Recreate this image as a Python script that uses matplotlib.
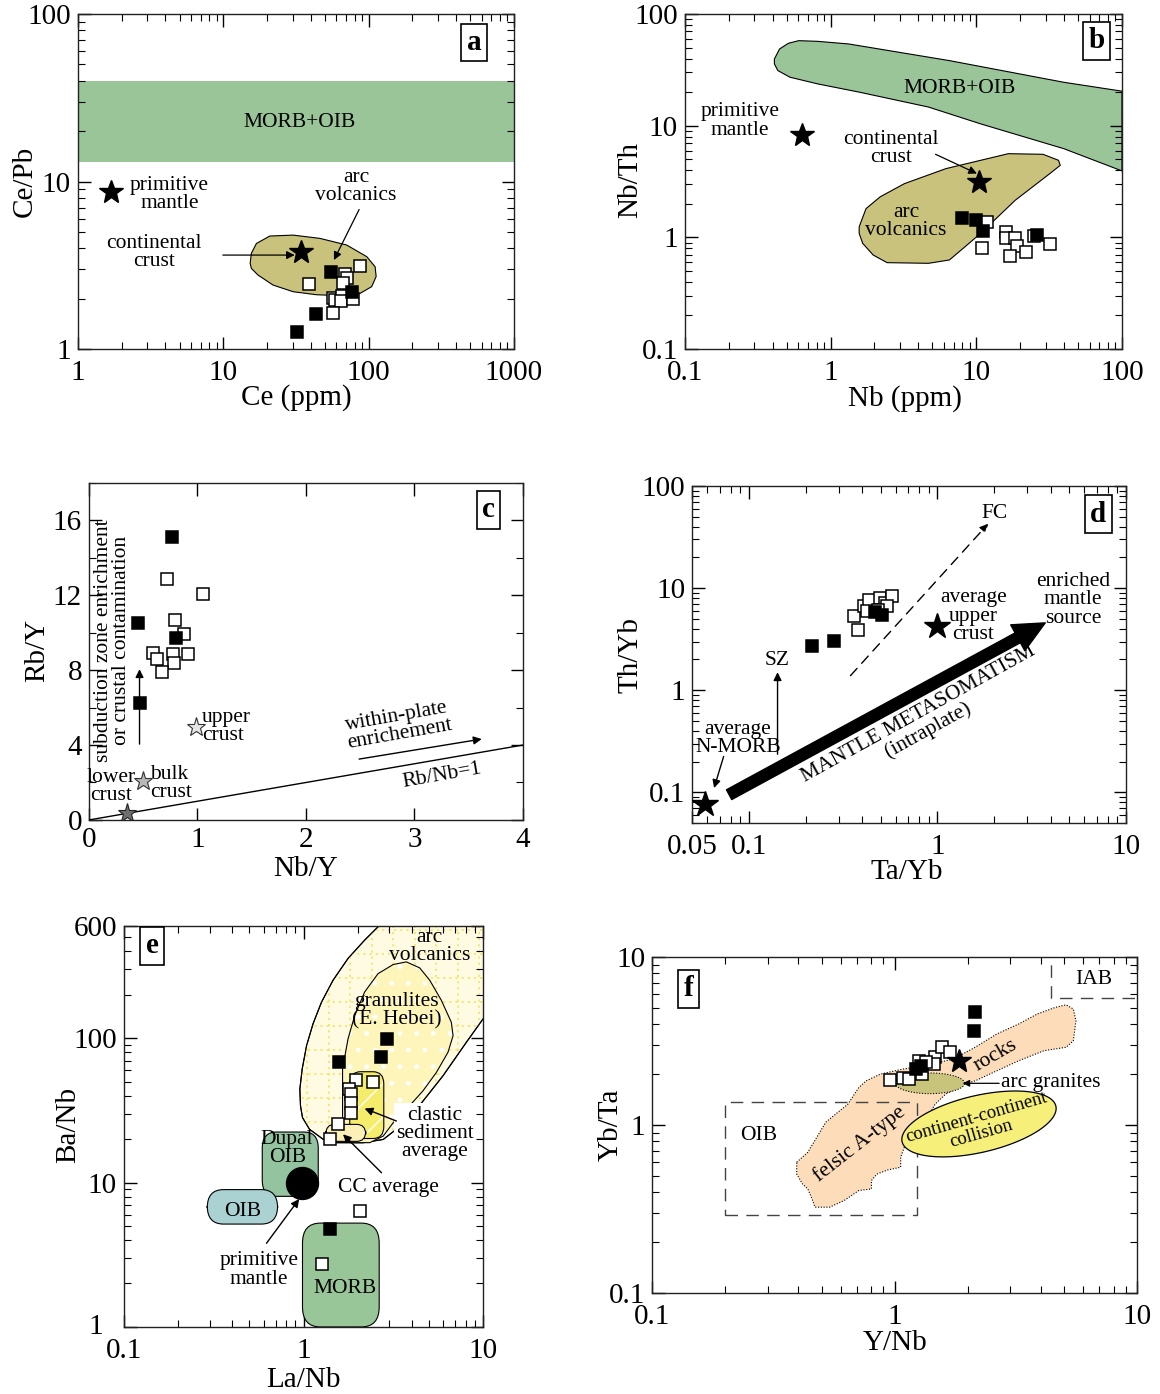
import numpy as np
import matplotlib
matplotlib.use("Agg")
import matplotlib.pyplot as plt
import matplotlib.transforms as mtransforms
from matplotlib.patches import FancyBboxPatch
from matplotlib.ticker import LogLocator, NullFormatter, MultipleLocator

plt.rcParams['font.family'] = ['Liberation Serif', 'DejaVu Serif']
plt.rcParams['hatch.linewidth'] = 1.0

# ---------------- data ----------------
# a: Ce vs Ce/Pb
A_CE_FILLED = [55.0, 77.3, 43.1, 32.2]
A_CEPB_FILLED = [2.90, 2.18, 1.62, 1.27]
A_CE_OPEN = [87.3, 68.8, 71.4, 67.0, 38.8, 56.5, 58.7, 65.2, 64.5, 77.7, 56.5]
A_CEPB_OPEN = [3.15, 2.79, 2.65, 2.49, 2.45, 2.01, 1.95, 2.08, 1.94, 1.99, 1.64]
A_PM = (1.68, 8.68)
A_CC = (34.5, 3.78)
A_MORB_BAND = (13.0, 40.0)
A_ARC_X = [15.3, 15.6, 16.9, 20.9, 30.2, 46.2, 70.6, 97.1, 110.8, 112.6, 105, 87.3, 67.0, 43.8, 30.2, 22.0, 17.3, 15.6]
A_ARC_Y = [3.25, 3.73, 4.27, 4.73, 4.79, 4.58, 4.18, 3.56, 3.10, 2.71, 2.36, 2.15, 2.08, 2.11, 2.20, 2.41, 2.77, 3.03]

# b: Nb vs Nb/Th
B_NB_FILLED = [8.0, 10.0, 11.1, 26.1]
B_NBTH_FILLED = [1.48, 1.43, 1.14, 1.06]
B_NB_OPEN = [11.9, 11.0, 16.1, 16.1, 18.3, 19.0, 17.1, 21.8, 25.0, 32.0]
B_NBTH_OPEN = [1.38, 0.80, 1.11, 0.98, 0.98, 0.83, 0.68, 0.74, 1.03, 0.866]
B_PM = (0.637, 8.2)
B_CC = (10.4, 3.14)
B_MORB_X = [0.411, 0.446, 0.512, 0.603, 0.815, 1.33, 6.54, 39.9, 100, 100, 39.9, 10.7, 4.7, 1.57, 0.815, 0.526, 0.434, 0.411]
B_MORB_Y = [39.6, 48.7, 54.7, 57.8, 57.0, 54.0, 38.3, 24.5, 20.4, 3.94, 6.23, 10.4, 14.7, 20.0, 23.7, 27.2, 31.2, 35.8]
B_ARC_X = [1.57, 1.75, 2.19, 3.21, 6.19, 16.6, 28.7, 36.7, 37.7, 32.0, 18.5, 10.7, 8.14, 6.54, 4.7, 2.44, 1.96, 1.66, 1.57]
B_ARC_Y = [1.245, 1.81, 2.31, 3.03, 4.13, 5.62, 5.55, 4.9, 4.42, 3.73, 2.15, 1.086, 0.80, 0.628, 0.586, 0.594, 0.695, 0.884, 1.086]

# c: Nb/Y vs Rb/Y
C_NBY_FILLED = [0.767, 0.456, 0.799, 0.466]
C_RBY_FILLED = [15.13, 10.52, 9.69, 6.24]
C_NBY_OPEN = [0.72, 1.052, 0.789, 0.872, 0.586, 0.624, 0.777, 0.913, 0.783, 0.672]
C_RBY_OPEN = [12.89, 12.09, 10.70, 9.92, 8.91, 8.59, 8.85, 8.85, 8.36, 7.88]
C_UPPER = (0.989, 4.98)
C_BULK = (0.498, 2.10)
C_LOWER = (0.355, 0.37)
C_RBNB1 = [0, 4]

# d: Ta/Yb vs Th/Yb
D_TAYB_FILLED = [0.217, 0.283, 0.464, 0.507]
D_THYB_FILLED = [2.72, 3.03, 5.8, 5.51]
D_TAYB_OPEN = [0.36, 0.381, 0.407, 0.435, 0.425, 0.496, 0.529, 0.571, 0.541, 0.486]
D_THYB_OPEN = [5.39, 3.85, 6.64, 7.7, 5.93, 8.0, 7.15, 8.3, 6.64, 6.16]
D_NMORB = (0.0583, 0.076)
D_UCC = (1.0, 4.25)

# e: La/Nb vs Ba/Nb
E_LANB_FILLED = [1.58, 2.90, 2.69, 1.41]
E_BANB_FILLED = [68.1, 98.9, 74.5, 4.76]
E_LANB_OPEN = [1.96, 2.44, 1.79, 1.83, 1.83, 1.85, 1.56, 1.41, 2.06, 1.26]
E_BANB_OPEN = [51.3, 49.9, 44.4, 41.0, 35.8, 30.5, 25.6, 19.9, 6.38, 2.72]
E_PM = (0.975, 9.95)
E_ARC_X = [0.962, 0.954, 0.983, 1.04, 1.13, 1.26, 1.46, 1.77, 2.19, 2.78, 3.59, 15.3, 15.3, 10.0, 8.08, 5.99, 4.26, 3.29, 2.78, 2.15, 1.53, 1.29, 1.08, 0.987]
E_ARC_Y = [34.0, 44.4, 61.2, 88.9, 126, 178, 252, 357, 478, 642, 885, 885, 209, 136, 93.8, 55.0, 32.2, 23.4, 19.9, 18.9, 18.9, 19.9, 23.4, 28.2]
E_GRAN_X = [1.65, 1.65, 1.77, 1.93, 2.19, 2.60, 3.16, 3.74, 4.44, 5.05, 5.86, 6.66, 6.81, 6.38, 5.50, 4.63, 3.74, 3.16, 2.78, 2.34, 1.81]
E_GRAN_Y = [19.9, 61.2, 99, 144, 209, 280, 324, 338, 307, 252, 183, 129, 104, 79.9, 58.0, 43.2, 32.2, 26.0, 21.0, 18.9, 18.9]
E_CLASTIC = (1.81, 2.80, 20.2, 58.6)   # x0, x1, y0, y1
E_CCAVG = (1.33, 2.22, 19.3, 25.3)
E_MORB = (0.987, 2.64, 1.0, 5.24)
E_DUPAL = (0.589, 1.208, 8.03, 22.4)
E_OIB = (0.291, 0.717, 5.16, 8.94)

# f: Y/Nb vs Yb/Ta
F_YNB_FILLED = [2.15, 2.13, 1.28, 1.23]
F_YBTA_FILLED = [4.68, 3.61, 2.25, 2.15]
F_YNB_OPEN = [0.955, 1.08, 1.15, 1.26, 1.30, 1.47, 1.46, 1.57, 1.69, 1.35]
F_YBTA_OPEN = [1.85, 1.90, 1.88, 2.41, 2.01, 2.53, 2.31, 2.90, 2.70, 2.36]
F_STAR = (1.84, 2.41)
F_FELSIC_X = [0.395, 0.439, 0.521, 0.642, 0.712, 0.763, 0.876, 1.08, 1.32, 1.75, 2.15, 2.64, 3.25, 3.87,
              4.60, 5.10, 5.46, 5.60, 5.46, 5.10, 4.14, 3.25, 2.64, 2.15, 1.94, 1.63, 1.47, 1.37, 1.24,
              1.11, 1.06, 1.06, 0.938, 0.846, 0.803, 0.803, 0.712, 0.62, 0.54, 0.47, 0.454, 0.439, 0.417, 0.395]
F_FELSIC_Y = [0.60, 0.688, 1.04, 1.33, 1.67, 1.83, 2.01, 2.15, 2.25, 2.47, 2.90, 3.48, 3.99, 4.57,
              5.01, 5.19, 4.90, 4.17, 3.17, 2.90, 2.77, 2.41, 2.10, 1.83, 1.75, 1.53, 1.33, 1.11, 0.925,
              0.77, 0.642, 0.56, 0.54, 0.51, 0.467, 0.416, 0.407, 0.355, 0.324, 0.324, 0.371, 0.416, 0.446, 0.51]
F_ARCGRAN = dict(center=(1.40, 1.77), semi=(0.1425, 0.0614))            # semi-axes in decades
F_COLLISION = dict(center=(2.23, 1.014), u=(0.3165, 0.109), v=(-0.032, 0.163))
F_OIB_BOX = (0.2, 1.24, 0.293, 1.37)
F_IAB_BOX = (4.4, 12.0, 5.7, 12.0)

ANN = 15.5
SQ = 8.5
TICK = 21
LAB = 21


def style(ax, xpad=8):
    ax.tick_params(which='both', direction='in', top=True, right=True, labelsize=TICK)
    ax.tick_params(axis='x', which='major', pad=xpad)
    ax.tick_params(axis='y', which='major', pad=5)
    ax.tick_params(which='major', length=9, width=1)
    ax.tick_params(which='minor', length=5, width=0.8)
    for s in ax.spines.values():
        s.set_linewidth(1.0)
        s.set_color('#222222')


def labels(ax, xl, yl, xpos, ypos):
    ax.set_xlabel(xl, fontsize=LAB, va='center')
    ax.set_ylabel(yl, fontsize=LAB, va='center')
    ax.xaxis.set_label_coords(*xpos)
    ax.yaxis.set_label_coords(*ypos)


def logaxis(axis):
    axis.set_minor_locator(LogLocator(base=10, subs=np.arange(2, 10)))
    axis.set_minor_formatter(NullFormatter())


def letter(ax, s, x, y, ha='right'):
    ax.text(x, y, s, transform=ax.transAxes, ha=ha, va='center', fontsize=21, fontweight='bold',
            bbox=dict(boxstyle='square,pad=0.18', fc='white', ec='black', lw=1.2), zorder=10)


def squares(ax, xo, yo, xf, yf):
    for xs, ys, fc in [(xo, yo, 'white'), (xf, yf, 'black')]:
        ax.plot(xs, ys, 's', ms=SQ, mfc=fc, mec='black', mew=1.1, ls='none', zorder=6)


def to_axes(ax, x, y):
    return ax.transAxes.inverted().transform(ax.transData.transform((x, y)))


def round_box(ax, box, fc, r, ec='black', lw=0.8, z=2, hatch=None):
    x0, x1, y0, y1 = box
    a0 = to_axes(ax, x0, y0)
    a1 = to_axes(ax, x1, y1)
    p = FancyBboxPatch(tuple(a0), a1[0] - a0[0], a1[1] - a0[1],
                       boxstyle='round,pad=0,rounding_size=%g' % r, transform=ax.transAxes,
                       fc=fc, ec=ec, lw=lw, zorder=z, hatch=hatch)
    ax.add_patch(p)
    return p


def arrow(ax, xy, xytext, lw=0.9, ms=12, **kw):
    ax.annotate('', xy=xy, xytext=xytext, zorder=9,
                arrowprops=dict(arrowstyle='-|>', lw=lw, color='black', mutation_scale=ms,
                                shrinkA=0, shrinkB=0, **kw))


fig = plt.figure(figsize=(11.6, 13.94), dpi=100)

# ---------------- a ----------------
ax = fig.add_axes([0.0672, 0.7496, 0.3759, 0.2403])
ax.set_xscale('log'); ax.set_yscale('log')
ax.set_xlim(1, 1000); ax.set_ylim(1, 100)
ax.set_autoscale_on(False)
ax.axhspan(A_MORB_BAND[0], A_MORB_BAND[1], color='#9ac598', zorder=1, lw=0)
ax.fill(A_ARC_X, A_ARC_Y, fc='#c9c27c', ec='black', lw=0.8, zorder=2)
squares(ax, A_CE_OPEN, A_CEPB_OPEN, A_CE_FILLED, A_CEPB_FILLED)
ax.plot(*A_PM, '*', ms=18, color='black', zorder=7)
ax.plot(*A_CC, '*', ms=18, color='black', zorder=7)
ax.text(33.6, 22.6, 'MORB+OIB', fontsize=ANN, ha='center', va='center')
ax.text(4.25, 8.41, 'primitive\nmantle', fontsize=ANN, ha='center', va='center', linespacing=0.95)
ax.text(3.35, 3.76, 'continental\ncrust', fontsize=ANN, ha='center', va='center', linespacing=0.95)
arrow(ax, (31.0, 3.64), (9.93, 3.64))
ax.text(81.9, 9.3, 'arc\nvolcanics', fontsize=ANN, ha='center', va='center', linespacing=0.95)
arrow(ax, (57.7, 3.40), (86.0, 6.81))
ax.set_xticks([1, 10, 100, 1000], ['1', '10', '100', '1000'])
ax.set_yticks([1, 10, 100], ['1', '10', '100'])
logaxis(ax.xaxis); logaxis(ax.yaxis)
style(ax)
labels(ax, 'Ce (ppm)', 'Ce/Pb', (0.5, -0.146), (-0.122, 0.5))
letter(ax, 'a', 0.925, 0.915)

# ---------------- b ----------------
ax = fig.add_axes([0.5905, 0.7496, 0.3767, 0.2403])
ax.set_xscale('log'); ax.set_yscale('log')
ax.set_xlim(0.1, 100); ax.set_ylim(0.1, 100)
ax.set_autoscale_on(False)
ax.fill(B_MORB_X, B_MORB_Y, fc='#9ac598', ec='black', lw=0.8, zorder=1)
ax.fill(B_ARC_X, B_ARC_Y, fc='#c9c27c', ec='black', lw=0.8, zorder=2)
squares(ax, B_NB_OPEN, B_NBTH_OPEN, B_NB_FILLED, B_NBTH_FILLED)
ax.plot(*B_PM, '*', ms=18, color='black', zorder=7)
ax.plot(*B_CC, '*', ms=18, color='black', zorder=7)
ax.text(7.7, 21.4, 'MORB+OIB', fontsize=ANN, ha='center', va='center')
ax.text(0.238, 11.0, 'primitive\nmantle', fontsize=ANN, ha='center', va='center', linespacing=0.95)
ax.text(2.58, 6.23, 'continental\ncrust', fontsize=ANN, ha='center', va='center', linespacing=0.95)
arrow(ax, (10.1, 3.73), (5.25, 5.55))
ax.text(3.30, 1.38, 'arc\nvolcanics', fontsize=ANN, ha='center', va='center', linespacing=0.95)
ax.set_xticks([0.1, 1, 10, 100], ['0.1', '1', '10', '100'])
ax.set_yticks([0.1, 1, 10, 100], ['0.1', '1', '10', '100'])
logaxis(ax.xaxis); logaxis(ax.yaxis)
style(ax)
labels(ax, 'Nb (ppm)', 'Nb/Th', (0.503, -0.149), (-0.126, 0.504))
letter(ax, 'b', 0.96, 0.92)

# ---------------- c ----------------
ax = fig.add_axes([0.0767, 0.4118, 0.3741, 0.2418])
ax.set_xlim(0, 4); ax.set_ylim(0, 18)
ax.set_autoscale_on(False)
ax.plot(C_RBNB1, C_RBNB1, color='black', lw=1.0, zorder=3)
squares(ax, C_NBY_OPEN, C_RBY_OPEN, C_NBY_FILLED, C_RBY_FILLED)
ax.plot(*C_UPPER, '*', ms=14, mfc='#e6e6e6', mec='#333333', mew=0.8, zorder=7)
ax.plot(*C_BULK, '*', ms=14, mfc='#b8b8b8', mec='#333333', mew=0.8, zorder=7)
ax.plot(*C_LOWER, '*', ms=14, mfc='#6e6e6e', mec='#222222', mew=0.8, zorder=7)
ax.text(1.04, 4.98, 'upper\ncrust', fontsize=ANN, ha='left', va='center', linespacing=0.95)
ax.text(0.56, 1.95, 'bulk\ncrust', fontsize=ANN, ha='left', va='center', linespacing=0.95)
ax.text(0.2, 1.78, 'lower\ncrust', fontsize=ANN, ha='center', va='center', linespacing=0.95)
arrow(ax, (0.466, 8.05), (0.466, 4.05), lw=1.0)
ax.text(0.22, 9.56, 'subduction zone enrichment\nor crustal contamination', fontsize=ANN, rotation=90,
        ha='center', va='center', linespacing=0.95)
ax.text(2.85, 5.05, 'within-plate\nenrichement', fontsize=ANN, rotation=10, ha='center', va='center',
        linespacing=0.95, rotation_mode='anchor')
arrow(ax, (3.62, 4.32), (2.49, 3.25), lw=1.0)
ax.text(3.25, 2.35, 'Rb/Nb=1', fontsize=ANN, rotation=10, ha='center', va='center', rotation_mode='anchor')
ax.set_xticks([0, 1, 2, 3, 4])
ax.set_yticks([0, 4, 8, 12, 16])
ax.yaxis.set_minor_locator(MultipleLocator(2))
style(ax, xpad=5)
labels(ax, 'Nb/Y', 'Rb/Y', (0.5, -0.147), (-0.12, 0.504))
letter(ax, 'c', 0.935, 0.92)

# ---------------- d ----------------
ax = fig.add_axes([0.5966, 0.4096, 0.3741, 0.2417])
ax.set_xscale('log'); ax.set_yscale('log')
ax.set_xlim(0.05, 10); ax.set_ylim(0.05, 100)
ax.set_autoscale_on(False)
squares(ax, D_TAYB_OPEN, D_THYB_OPEN, D_TAYB_FILLED, D_THYB_FILLED)
ax.plot(*D_NMORB, '*', ms=19, color='black', zorder=7)
ax.plot(*D_UCC, '*', ms=19, color='black', zorder=7)
arrow(ax, (1.86, 42.8), (0.346, 1.39), lw=1.0, ls=(0, (7, 5)))
ax.text(2.02, 53.5, 'FC', fontsize=ANN, ha='center', va='center')
arrow(ax, (0.142, 1.50), (0.142, 0.236), lw=1.0)
ax.text(0.142, 1.94, 'SZ', fontsize=ANN, ha='center', va='center')
ax.text(0.0877, 0.337, 'average\nN-MORB', fontsize=ANN, ha='center', va='center', linespacing=0.95)
arrow(ax, (0.0654, 0.110), (0.0735, 0.224), lw=1.0)
ax.text(1.55, 5.31, 'average\nupper\ncrust', fontsize=ANN, ha='center', va='center', linespacing=0.95)
ax.text(5.25, 7.7, 'enriched\nmantle\nsource', fontsize=ANN, ha='center', va='center', linespacing=0.95)
ax.annotate('', xy=(3.73, 4.57), xytext=(0.0786, 0.0948),
            arrowprops=dict(arrowstyle='simple,head_length=0.9,head_width=0.85,tail_width=0.32',
                            fc='black', ec='black', mutation_scale=25, shrinkA=0, shrinkB=0))
ax.text(0.84, 0.489, 'MANTLE METASOMATISM\n(intraplate)', fontsize=ANN, rotation=29, ha='center',
        va='center', linespacing=0.95, rotation_mode='anchor')
ax.set_xticks([0.05, 0.1, 1, 10], ['0.05', '0.1', '1', '10'])
ax.set_yticks([0.1, 1, 10, 100], ['0.1', '1', '10', '100'])
logaxis(ax.xaxis); logaxis(ax.yaxis)
style(ax)
labels(ax, 'Ta/Yb', 'Th/Yb', (0.495, -0.145), (-0.143, 0.498))
letter(ax, 'd', 0.955, 0.917)

# ---------------- e ----------------
ax = fig.add_axes([0.1069, 0.0481, 0.3095, 0.2877])
ax.set_xscale('log'); ax.set_yscale('log')
ax.set_xlim(0.1, 10); ax.set_ylim(1, 600)
ax.set_autoscale_on(False)
arc = ax.fill(E_ARC_X, E_ARC_Y, fc='#fffbe3', ec='black', lw=0.8, zorder=1)[0]
for f in np.arange(0.03, 1.0, 0.06):
    ln, = ax.plot([f, f], [0, 1], transform=ax.transAxes, color='#f4e46c', lw=1.3, ls=(0, (1.2, 2.2)), zorder=1.1)
    ln.set_clip_path(arc)
    ln, = ax.plot([0, 1], [f, f], transform=ax.transAxes, color='#f4e46c', lw=1.3, ls=(0, (1.2, 2.2)), zorder=1.1)
    ln.set_clip_path(arc)
ax.fill(E_ARC_X, E_ARC_Y, fc='none', ec='black', lw=0.8, zorder=1.2)
ax.fill(E_GRAN_X, E_GRAN_Y, fc='#fdf5b9', ec='white', lw=0, hatch='.', zorder=2)
ax.fill(E_GRAN_X, E_GRAN_Y, fc='none', ec='black', lw=0.8, zorder=2.1)
round_box(ax, E_CLASTIC, '#f6ec6c', 0.03, ec='white', lw=0, z=3, hatch='/')
round_box(ax, E_CLASTIC, 'none', 0.03, z=3.1)
round_box(ax, E_CCAVG, '#fcf0b8', 0.025, z=3.2)
round_box(ax, E_MORB, '#99c698', 0.05, z=2)
round_box(ax, E_DUPAL, '#93c39f', 0.04, z=2)
round_box(ax, E_OIB, '#abd2d2', 0.045, z=2)
squares(ax, E_LANB_OPEN, E_BANB_OPEN, E_LANB_FILLED, E_BANB_FILLED)
ax.plot(*E_PM, 'o', ms=23, color='black', zorder=7)
ax.text(5.05, 430, 'arc\nvolcanics', fontsize=ANN, ha='center', va='center', linespacing=0.95, zorder=8)
ax.text(3.29, 156, 'granulites\n(E. Hebei)', fontsize=ANN, ha='center', va='center', linespacing=0.95, zorder=8)
ax.text(5.4, 21.9, 'clastic\nsediment\naverage', fontsize=ANN, ha='center', va='center', linespacing=0.95,
        zorder=8, bbox=dict(boxstyle='square,pad=0.1', fc='white', ec='none'))
arrow(ax, (2.19, 32.6), (3.29, 26.7), lw=1.0)
ax.text(2.96, 9.28, 'CC average', fontsize=ANN, ha='center', va='center', zorder=8)
arrow(ax, (1.66, 21.6), (2.72, 11.7), lw=1.0)
ax.text(0.811, 17.2, 'Dupal\nOIB', fontsize=ANN, ha='center', va='center', linespacing=0.95, zorder=8)
ax.text(0.457, 6.32, 'OIB', fontsize=ANN, ha='center', va='center', zorder=8)
ax.text(1.70, 1.85, 'MORB', fontsize=ANN, ha='center', va='center', zorder=8)
ax.text(0.566, 2.48, 'primitive\nmantle', fontsize=ANN, ha='center', va='center', linespacing=0.95, zorder=8)
arrow(ax, (0.946, 7.7), (0.622, 3.80), lw=1.0)
ax.set_xticks([0.1, 1, 10], ['0.1', '1', '10'])
ax.set_yticks([1, 10, 100, 600], ['1', '10', '100', '600'])
logaxis(ax.xaxis); logaxis(ax.yaxis)
style(ax)
# the "1" label sits a little to the left and above the corner in the original
lab1 = ax.get_yticklabels()[0]
lab1.set_transform(lab1.get_transform() + mtransforms.ScaledTranslation(-0.14, 0.03, fig.dpi_scale_trans))
labels(ax, 'La/Nb', 'Ba/Nb', (0.501, -0.132), (-0.156, 0.504))
letter(ax, 'e', 0.06, 0.95, ha='left')

# ---------------- f ----------------
ax = fig.add_axes([0.5621, 0.0725, 0.4181, 0.2410])
ax.set_xscale('log'); ax.set_yscale('log')
ax.set_xlim(0.1, 10); ax.set_ylim(0.1, 10)
ax.set_autoscale_on(False)
ax.fill(F_FELSIC_X, F_FELSIC_Y, fc='#fcdcb9', ec='black', lw=0.8, ls=(0, (1, 1.5)), zorder=1)
t = np.linspace(0, 2 * np.pi, 200)
c = np.log10(F_ARCGRAN['center'])
ax.fill(10 ** (c[0] + F_ARCGRAN['semi'][0] * np.cos(t)), 10 ** (c[1] + F_ARCGRAN['semi'][1] * np.sin(t)),
        fc='#c9c47c', ec='black', lw=0.8, ls=(0, (1, 1.5)), zorder=2)
c = np.log10(F_COLLISION['center'])
u, v = F_COLLISION['u'], F_COLLISION['v']
ax.fill(10 ** (c[0] + u[0] * np.cos(t) + v[0] * np.sin(t)), 10 ** (c[1] + u[1] * np.cos(t) + v[1] * np.sin(t)),
        fc='#f6f07a', ec='black', lw=0.9, zorder=2)
x0, x1, y0, y1 = F_OIB_BOX
ax.plot([x0, x1, x1, x0, x0], [y0, y0, y1, y1, y0], color='#444444', lw=1.0, ls=(0, (9, 6)), zorder=1.5)
x0, x1, y0, y1 = F_IAB_BOX
ax.plot([x0, x0, x1], [y1, y0, y0], color='#444444', lw=1.0, ls=(0, (9, 6)), zorder=1.5)
squares(ax, F_YNB_OPEN, F_YBTA_OPEN, F_YNB_FILLED, F_YBTA_FILLED)
ax.plot(*F_STAR, '*', ms=18, color='black', zorder=7)
ax.text(0.275, 0.864, 'OIB', fontsize=ANN, ha='center', va='center')
ax.text(6.6, 7.38, 'IAB', fontsize=ANN, ha='center', va='center')
ax.text(0.72, 0.77, 'felsic A-type', fontsize=ANN, rotation=38, ha='center', va='center', rotation_mode='anchor')
ax.text(2.62, 2.6, 'rocks', fontsize=ANN, rotation=30, ha='center', va='center', rotation_mode='anchor')
ax.text(2.74, 1.79, 'arc granites', fontsize=ANN, ha='left', va='center')
arrow(ax, (1.91, 1.77), (2.7, 1.77), ms=10)
ax.text(2.22, 0.99, 'continent-continent\ncollision', fontsize=ANN - 2, rotation=16, ha='center', va='center',
        linespacing=0.95, rotation_mode='anchor', zorder=5)
ax.set_xticks([0.1, 1, 10], ['0.1', '1', '10'])
ax.set_yticks([0.1, 1, 10], ['0.1', '1', '10'])
logaxis(ax.xaxis); logaxis(ax.yaxis)
style(ax)
labels(ax, 'Y/Nb', 'Yb/Ta', (0.501, -0.149), (-0.085, 0.5))
letter(ax, 'f', 0.065, 0.905, ha='left')

fig.savefig('out.png', dpi=100)
